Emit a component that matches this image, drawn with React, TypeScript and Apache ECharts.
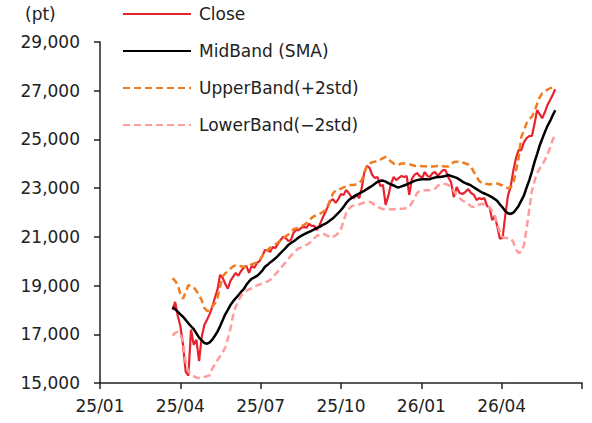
import React, { useEffect, useRef } from "react";
import * as echarts from "echarts";

const dates = [
  "2025-03-23","2025-03-26","2025-03-29","2025-04-01","2025-04-04","2025-04-07","2025-04-10","2025-04-13","2025-04-16","2025-04-19",
  "2025-04-22","2025-04-25","2025-04-28","2025-05-01","2025-05-04","2025-05-07","2025-05-10","2025-05-13","2025-05-16","2025-05-19",
  "2025-05-22","2025-05-25","2025-05-28","2025-05-31","2025-06-03","2025-06-06","2025-06-09","2025-06-12","2025-06-15","2025-06-18",
  "2025-06-21","2025-06-24","2025-06-27","2025-06-30","2025-07-03","2025-07-06","2025-07-09","2025-07-12","2025-07-15","2025-07-18",
  "2025-07-21","2025-07-24","2025-07-27","2025-07-30","2025-08-02","2025-08-05","2025-08-08","2025-08-11","2025-08-14","2025-08-17",
  "2025-08-20","2025-08-23","2025-08-26","2025-08-29","2025-09-01","2025-09-04","2025-09-07","2025-09-10","2025-09-13","2025-09-16",
  "2025-09-19","2025-09-22","2025-09-25","2025-09-28","2025-10-01","2025-10-04","2025-10-07","2025-10-10","2025-10-13","2025-10-16",
  "2025-10-19","2025-10-22","2025-10-25","2025-10-28","2025-10-31","2025-11-03","2025-11-06","2025-11-09","2025-11-12","2025-11-15",
  "2025-11-18","2025-11-21","2025-11-24","2025-11-27","2025-11-30","2025-12-03","2025-12-06","2025-12-09","2025-12-12","2025-12-15",
  "2025-12-18","2025-12-21","2025-12-24","2025-12-27","2025-12-30","2026-01-02","2026-01-05","2026-01-08","2026-01-11","2026-01-14",
  "2026-01-17","2026-01-20","2026-01-23","2026-01-26","2026-01-29","2026-02-01","2026-02-04","2026-02-07","2026-02-10","2026-02-13",
  "2026-02-16","2026-02-19","2026-02-22","2026-02-25","2026-02-28","2026-03-03","2026-03-06","2026-03-09","2026-03-12","2026-03-15",
  "2026-03-18","2026-03-21","2026-03-24","2026-03-27","2026-03-30","2026-04-02","2026-04-05","2026-04-08","2026-04-11","2026-04-14",
  "2026-04-17","2026-04-20","2026-04-23","2026-04-26","2026-04-29","2026-05-02","2026-05-05","2026-05-08","2026-05-11","2026-05-14",
  "2026-05-17","2026-05-20","2026-05-23","2026-05-26","2026-05-29","2026-06-01",
];

const closeValues = [
  18000,18330,17760,17350,16570,15470,15300,17190,16570,16780,
  15900,16900,17390,17600,17840,18130,18500,18830,19440,19320,
  19070,18870,19190,19360,19520,19400,19600,19730,19810,19520,
  19810,19730,19930,20010,20220,20460,20460,20380,20580,20540,
  20710,20870,21000,20950,20830,20870,21160,21280,21280,21370,
  21410,21370,21530,21450,21450,21280,21490,21740,21980,22220,
  22470,22550,22390,22550,22760,22720,22920,22800,22630,22590,
  22720,22590,23000,23660,23910,23830,23540,23420,23460,23090,
  23130,22310,22680,23170,23460,23330,23420,23500,23460,23500,
  22720,23380,23540,23620,23500,23420,23660,23500,23460,23620,
  23660,23500,23620,23740,23740,23460,23250,22630,23050,22800,
  22760,22840,22960,22800,22720,22510,22590,22550,22590,22270,
  22220,21690,21860,21410,20920,20960,21860,22680,23050,23700,
  24230,24560,24560,24890,25050,25140,25140,25630,26200,26040,
  25870,26120,26410,26610,26820,27060,
];

const midBandValues = [
  18116,18025,17930,17820,17720,17590,17450,17330,17210,17040,
  16860,16750,16640,16610,16670,16780,16940,17110,17330,17580,
  17820,18000,18200,18350,18480,18600,18740,18850,19030,19170,
  19280,19340,19400,19500,19620,19770,19850,19950,20030,20120,
  20220,20330,20440,20550,20670,20750,20810,20890,20980,21040,
  21100,21150,21200,21250,21310,21370,21410,21480,21530,21600,
  21680,21760,21870,21980,22100,22230,22390,22510,22590,22660,
  22720,22780,22840,22890,22960,23030,23100,23180,23260,23300,
  23310,23270,23210,23150,23110,23050,23030,23070,23110,23150,
  23200,23250,23300,23330,23350,23360,23360,23360,23370,23410,
  23440,23460,23460,23480,23500,23540,23500,23460,23420,23350,
  23270,23210,23160,23110,23030,22960,22890,22830,22780,22730,
  22680,22620,22550,22470,22330,22210,22060,21970,21940,21990,
  22120,22270,22490,22700,23030,23330,23680,24070,24400,24750,
  25030,25300,25550,25750,25980,26200,
];

const upperBandValues = [
  19305,19190,19030,18660,18460,18740,19010,18990,18930,18780,
  18600,18390,18070,17960,17980,18150,18270,18500,18950,19380,
  19500,19600,19690,19790,19830,19810,19790,19770,19770,19810,
  19870,19910,19950,20050,20220,20380,20460,20550,20610,20690,
  20770,20850,20930,21020,21100,21200,21310,21340,21370,21430,
  21490,21560,21670,21780,21850,21900,21940,22000,22080,22270,
  22510,22780,22900,22940,22980,23030,23070,23110,23130,23130,
  23160,23190,23330,23620,23910,24020,24060,24090,24130,24170,
  24230,24280,24210,24090,24010,23950,23970,24010,24010,24010,
  23990,23950,23920,23910,23910,23900,23900,23890,23890,23890,
  23900,23910,23910,23900,23890,23890,23990,24070,24080,24080,
  24050,24020,23970,23870,23660,23480,23290,23220,23190,23170,
  23150,23170,23190,23190,23150,23110,23030,23000,23020,23190,
  23700,24230,25100,25380,25670,25830,25930,26160,26450,26730,
  26900,26980,27040,27100,27140,27160,
];

const lowerBandValues = [
  16940,17060,17100,16980,16690,15870,15470,15340,15280,15220,
  15210,15220,15250,15280,15320,15590,15770,15940,16100,16240,
  16470,16820,17230,17760,18130,18370,18580,18700,18780,18850,
  18890,18950,19010,19050,19090,19110,19170,19230,19360,19460,
  19580,19710,19830,19970,20100,20220,20340,20440,20530,20570,
  20620,20670,20730,20830,20940,21040,21100,21140,21100,21040,
  20960,21000,21060,21160,21320,21650,21980,22140,22250,22290,
  22310,22330,22370,22410,22440,22440,22390,22290,22230,22180,
  22140,22120,22120,22130,22130,22140,22140,22150,22160,22180,
  22230,22390,22590,22800,22880,22910,22910,22910,22920,22940,
  22980,23090,23170,23180,23170,23130,23050,22880,22720,22590,
  22490,22430,22350,22250,22230,22290,22330,22350,22330,22290,
  22210,22060,21860,21530,21180,21000,20960,20940,20940,20790,
  20480,20340,20380,20670,21370,22140,22880,23290,23620,23800,
  23970,24150,24380,24660,24970,25220,
];

const xTickLabels = ["25/01", "25/04", "25/07", "25/10", "26/01", "26/04"];
const seriesNames = ["Close", "MidBand (SMA)", "UpperBand(+2std)", "LowerBand(\u22122std)"];

const FONT = "DejaVu Sans";

function monthPos(s: string): number {
  const [y, m, d] = s.split("-").map(Number);
  const dim = new Date(Date.UTC(y, m, 0)).getUTCDate();
  return (y - 2025) * 12 + (m - 1) + (d - 1) / dim;
}

function toPairs(values: number[]) {
  return dates.map((d, i) => [monthPos(d), values[i]]);
}

export default function App() {
  const ref = useRef<HTMLDivElement>(null);

  useEffect(() => {
    if (!ref.current) return;
    const chart = echarts.init(ref.current, undefined, { renderer: "svg" });
    const axisColor = "#222";
    chart.setOption({
      animation: false,
      backgroundColor: "#fff",
      grid: { left: 100, right: 10, top: 42, bottom: 40, containLabel: false },
      graphic: [
        {
          type: "text",
          left: 25,
          top: 5,
          style: { text: "(pt)", font: `17px '${FONT}'`, fill: "#222" },
        },
      ],
      legend: {
        orient: "vertical",
        left: 122,
        top: 4,
        padding: 0,
        itemWidth: 68,
        itemHeight: 14,
        itemGap: 17,
        itemStyle: { opacity: 0 },
        textStyle: { fontFamily: FONT, fontSize: 17, color: "#222", lineHeight: 20, padding: [0, 0, 0, 3] },
        data: seriesNames,
      },
      xAxis: {
        type: "value",
        min: 0,
        max: 18,
        interval: 3,
        splitLine: { show: false },
        axisLine: { lineStyle: { color: axisColor, width: 1.5 } },
        axisTick: { show: true, length: 6, lineStyle: { color: axisColor, width: 1.5 } },
        axisLabel: {
          margin: 14,
          fontFamily: FONT,
          fontSize: 17,
          color: "#222",
          formatter: (v: number) => xTickLabels[Math.round(v / 3)] ?? "",
        },
      },
      yAxis: {
        type: "value",
        min: 15000,
        max: 29000,
        interval: 2000,
        splitLine: { show: false },
        axisLine: { show: true, lineStyle: { color: axisColor, width: 1.5 } },
        axisTick: { show: true, length: 6, lineStyle: { color: axisColor, width: 1.5 } },
        axisLabel: {
          margin: 20,
          fontFamily: FONT,
          fontSize: 17,
          color: "#222",
          formatter: (v: number) => v.toLocaleString("en-US"),
        },
      },
      series: [
        {
          name: seriesNames[0],
          type: "line",
          data: toPairs(closeValues),
          symbol: "none",
          lineStyle: { color: "#E8232D", width: 2.2 },
          itemStyle: { color: "#E8232D" },
        },
        {
          name: seriesNames[1],
          type: "line",
          data: toPairs(midBandValues),
          symbol: "none",
          lineStyle: { color: "#000", width: 2.5 },
          itemStyle: { color: "#000" },
        },
        {
          name: seriesNames[2],
          type: "line",
          data: toPairs(upperBandValues),
          symbol: "none",
          lineStyle: { color: "#F07C1E", width: 2.5, type: [7, 4] },
          itemStyle: { color: "#F07C1E" },
        },
        {
          name: seriesNames[3],
          type: "line",
          data: toPairs(lowerBandValues),
          symbol: "none",
          lineStyle: { color: "#FF9C9C", width: 2.5, type: [7, 4] },
          itemStyle: { color: "#FF9C9C" },
        },
      ],
    });
    return () => chart.dispose();
  }, []);

  return <div ref={ref} style={{ width: 592, height: 423, position: "fixed", left: 0, top: 0 }} />;
}
